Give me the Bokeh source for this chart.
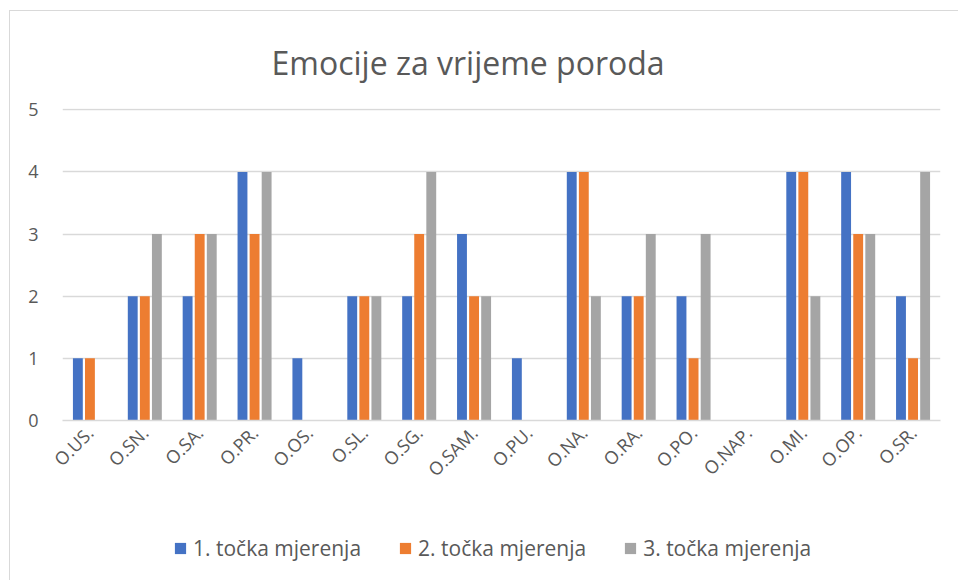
from bokeh.plotting import figure
from bokeh.models import ColumnDataSource, FactorRange, Legend, LegendItem, Range1d
from bokeh.transform import dodge
from bokeh.layouts import column
from bokeh.embed import file_html
from bokeh.resources import INLINE
import math

categories = ["O.US.", "O.SN.", "O.SA.", "O.PR.", "O.OS.", "O.SL.", "O.SG.", "O.SAM.",
              "O.PU.", "O.NA.", "O.RA.", "O.PO.", "O.NAP.", "O.MI.", "O.OP.", "O.SR."]
series1 = [1, 2, 2, 4, 1, 2, 2, 3, 1, 4, 2, 2, 0, 4, 4, 2]
series2 = [1, 2, 3, 3, 0, 2, 3, 2, 0, 4, 2, 1, 0, 4, 3, 1]
series3 = [0, 3, 3, 4, 0, 2, 4, 2, 0, 2, 3, 3, 0, 2, 3, 4]
series_names = ["1. točka mjerenja", "2. točka mjerenja", "3. točka mjerenja"]
colors = ["#4472C4", "#ED7D31", "#A5A5A5"]
y_ticks = [0, 1, 2, 3, 4, 5]

FONT = "Open Sans"
TXT = "#595959"

src = ColumnDataSource(dict(cat=categories, s1=series1, s2=series2, s3=series3))
cols = ["s1", "s2", "s3"]
offsets = [-0.22, 0.0, 0.22]

p = figure(x_range=FactorRange(*categories), y_range=Range1d(0, 5.02),
           frame_width=878, frame_height=312, output_backend="svg", toolbar_location=None,
           title="Emocije za vrijeme poroda",
           min_border_left=52, min_border_right=18, min_border_top=97, min_border_bottom=95)

p.title.align = "left"
p.title.text_font = FONT
p.title.text_font_size = "32px"
p.title.text_font_style = "normal"
p.title.text_color = TXT
p.title.offset = 209
p.title.standoff = 49

for col, c, off in zip(cols, colors, offsets):
    p.vbar(x=dodge("cat", off, range=p.x_range), top=col, width=0.18, source=src,
           fill_color=c, line_color=None)

p.outline_line_color = None
p.background_fill_color = "white"
p.border_fill_color = "white"

p.xgrid.grid_line_color = None
p.ygrid.grid_line_color = "#D9D9D9"
p.ygrid.grid_line_width = 1.5
p.yaxis.ticker = y_ticks
p.yaxis.axis_line_color = None
p.yaxis.major_tick_line_color = None
p.yaxis.minor_tick_line_color = None
p.yaxis.major_tick_out = 0
p.yaxis.major_tick_in = 0
p.yaxis.major_label_text_font = FONT
p.yaxis.major_label_text_font_size = "18px"
p.yaxis.major_label_text_color = TXT
p.yaxis.major_label_standoff = 24

p.xaxis.axis_line_color = "#D9D9D9"
p.xaxis.axis_line_width = 1.5
p.xaxis.major_tick_line_color = None
p.xaxis.minor_tick_line_color = None
p.xaxis.major_tick_out = 0
p.xaxis.major_tick_in = 0
p.xaxis.major_label_orientation = math.pi / 4
p.xaxis.major_label_text_font = FONT
p.xaxis.major_label_text_font_size = "18px"
p.xaxis.major_label_text_color = TXT
p.xaxis.major_label_standoff = 9

# Legend strip below the chart (series bars kept out of its view; only legend swatches show)
lg = figure(x_range=FactorRange(*categories), y_range=Range1d(10, 11),
            width=948, height=65, output_backend="svg", toolbar_location=None,
            x_axis_location=None, y_axis_location=None,
            min_border_left=4, min_border_right=0, min_border_top=0, min_border_bottom=0)
lg.outline_line_color = None
lg.border_fill_color = "white"
lg.background_fill_color = "white"
lg.grid.visible = False
lg_renderers = [lg.vbar(x=dodge("cat", off, range=lg.x_range), top=col, width=0.18,
                        source=src, fill_color=c, line_color=None)
                for col, c, off in zip(cols, colors, offsets)]
items = [LegendItem(label=n, renderers=[r]) for n, r in zip(series_names, lg_renderers)]
legend = Legend(items=items, orientation="horizontal", location=(111, 18),
                label_text_font=FONT, label_text_font_size="21px", label_text_color=TXT,
                glyph_width=14, glyph_height=14, spacing=37, label_standoff=6,
                border_line_color=None, background_fill_alpha=0, margin=0, padding=0)
lg.add_layout(legend, "center")

layout = column(p, lg)
layout.styles = {"margin-left": "9px", "margin-top": "10px",
                 "border-left": "1px solid #D9D9D9", "border-top": "1px solid #D9D9D9"}

open("out.html", "w").write(file_html(layout, INLINE))
